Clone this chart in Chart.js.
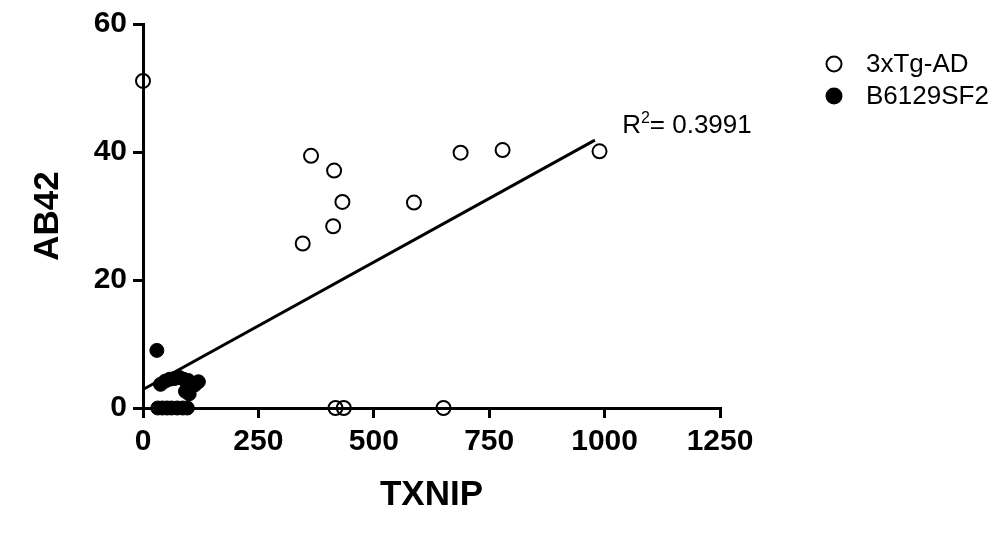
<!DOCTYPE html>
<html>
<head>
<meta charset="utf-8">
<script src="https://cdn.jsdelivr.net/npm/chart.js@4"></script>
<style>
  html, body { margin: 0; padding: 0; background: #fff; }
  #wrap { width: 1005px; height: 546px; }
</style>
</head>
<body>
<div id="wrap"><canvas id="txnipChart" width="1005" height="546"></canvas></div>
<script>
const FONT = "'Liberation Sans', Arial, Helvetica, sans-serif";

// 3xTg-AD (open circles)
const tgX = [0, 364, 414, 432, 412, 346, 587, 688, 779, 989, 417, 435, 651];
const tgY = [51.1, 39.4, 37.1, 32.2, 28.4, 25.7, 32.1, 39.9, 40.3, 40.1, 0, 0, 0];

// B6129SF2 (filled circles)
const wtX = [30, 38, 48, 58, 68, 78, 88, 98, 112, 120, 92, 100, 32, 42, 52, 62, 74, 86, 96];
const wtY = [9.0, 3.7, 4.2, 4.5, 4.6, 4.8, 4.5, 4.3, 3.6, 4.1, 2.6, 2.2, 0, 0, 0, 0, 0, 0, 0];

// linear fit
const fitSlope = 0.0398;
const fitIntercept = 2.9;
const fitRange = [0, 979];
const rSquared = "0.3991";

const xTicks = [0, 250, 500, 750, 1000, 1250];
const yTicks = [0, 20, 40, 60];

const toPoints = (xs, ys) => xs.map((x, i) => ({ x, y: ys[i] }));
const fitPoints = fitRange.map(x => ({ x, y: fitIntercept + fitSlope * x }));

/* ---------- legend, R² text, y title ---------- */
const annotations = {
  id: "annotations",
  afterDraw(chart) {
    const { ctx, scales: { x, y } } = chart;
    ctx.save();
    ctx.fillStyle = "#000";
    ctx.strokeStyle = "#000";
    ctx.textBaseline = "alphabetic";
    ctx.textAlign = "left";

    // R² label next to the end of the fit line
    let px = x.getPixelForValue(1038);
    const py = y.getPixelForValue(42.9);
    ctx.font = `26px ${FONT}`;
    ctx.fillText("R", px, py);
    px += ctx.measureText("R").width;
    ctx.font = `16px ${FONT}`;
    ctx.fillText("2", px, py - 10);
    px += ctx.measureText("2").width;
    ctx.font = `26px ${FONT}`;
    ctx.fillText("= " + rSquared, px, py);

    // legend
    const items = [
      { label: "3xTg-AD", filled: false, cy: 64 },
      { label: "B6129SF2", filled: true, cy: 96 },
    ];
    items.forEach(it => {
      ctx.beginPath();
      ctx.arc(834, it.cy, it.filled ? 8.5 : 7.5, 0, Math.PI * 2);
      if (it.filled) {
        ctx.fill();
      } else {
        ctx.lineWidth = 2;
        ctx.stroke();
      }
      ctx.font = `26px ${FONT}`;
      ctx.textBaseline = "middle";
      ctx.fillText(it.label, 866, it.cy + 1);
    });
    ctx.restore();
  }
};

const axisGrid = {
  drawOnChartArea: false,
  drawTicks: true,
  tickLength: 10,
  lineWidth: 3,
  color: "#000",
};

const tickFont = { family: FONT, size: 30, weight: "bold" };
const titleFont = { family: FONT, size: 35, weight: "bold" };

new Chart(document.getElementById("txnipChart").getContext("2d"), {
  type: "scatter",
  data: {
    datasets: [
      {
        label: "3xTg-AD",
        data: toPoints(tgX, tgY),
        pointStyle: "circle",
        pointRadius: 7,
        pointBorderWidth: 2,
        borderColor: "#000",
        backgroundColor: "rgba(255,255,255,0)",
        clip: false,
        order: 1,
      },
      {
        label: "B6129SF2",
        data: toPoints(wtX, wtY),
        pointStyle: "circle",
        pointRadius: 7,
        pointBorderWidth: 1,
        borderColor: "#000",
        backgroundColor: "#000",
        clip: false,
        order: 1,
      },
      {
        type: "line",
        label: "fit",
        data: fitPoints,
        borderColor: "#000",
        borderWidth: 3,
        pointRadius: 0,
        fill: false,
        clip: false,
        order: 2,
      },
    ],
  },
  options: {
    responsive: false,
    animation: false,
    layout: { padding: { left: 0, top: 23, right: 285, bottom: 0 } },
    plugins: {
      legend: { display: false },
      tooltip: { enabled: false },
    },
    scales: {
      x: {
        type: "linear",
        min: 0,
        max: 1250,
        afterFit: s => { s.height = 138; },
        afterBuildTicks: s => { s.ticks = xTicks.map(v => ({ value: v })); },
        grid: axisGrid,
        border: { display: true, width: 3, color: "#000" },
        ticks: {
          color: "#000",
          padding: 6,
          font: tickFont,
          callback: v => String(v),
        },
        title: {
          display: true,
          text: "TXNIP",
          color: "#000",
          font: titleFont,
          padding: { top: 0, bottom: 30 },
        },
      },
      y: {
        type: "linear",
        min: 0,
        max: 60,
        afterFit: s => { s.width = 143; },
        afterBuildTicks: s => { s.ticks = yTicks.map(v => ({ value: v })); },
        grid: axisGrid,
        border: { display: true, width: 3, color: "#000" },
        ticks: {
          color: "#000",
          padding: 6,
          font: tickFont,
          callback: v => String(v),
        },
        title: {
          display: true,
          text: "AB42",
          color: "#000",
          font: titleFont,
          padding: { top: 27, bottom: 0 },
        },
      },
    },
  },
  plugins: [annotations],
});
</script>
</body>
</html>
